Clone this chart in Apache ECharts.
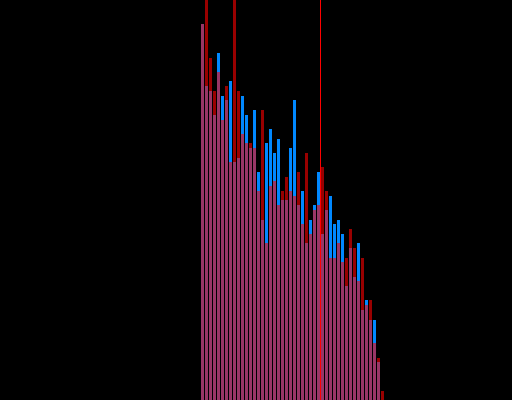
<!DOCTYPE html>
<html>
<head>
<meta charset="utf-8">
<style>
html,body{margin:0;padding:0;background:#000;}
#main{width:512px;height:400px;}
</style>
<script src="https://cdn.jsdelivr.net/npm/echarts@6/dist/echarts.min.js"></script>
</head>
<body>
<div id="main"></div>
<script>
// bin indices (categories)
const categories = [0,1,2,3,4,5,6,7,8,9,10,11,12,13,14,15,16,17,18,19,20,21,22,23,24,25,26,27,28,29,30,31,32,33,34,35,36,37,38,39,40,41,42,43,44,45];
// blue series values
const blueValues = [376,314,309,285,347,304,300,319,238,242,304,285,252,290,228,180,257,271,247,261,200,200,252,300,195,209,157,180,195,228,166,190,204,176,180,166,114,152,123,157,90,100,80,80,38,0];
// red series values (semi-transparent, drawn on top)
const redValues = [376,430,342,309,328,280,314,238,420,309,266,257,257,252,209,290,157,214,219,195,209,223,209,204,228,176,247,166,190,195,233,209,142,142,157,138,142,171,152,119,142,95,100,57,42,9];
// position of the vertical marker (between bins 29 and 30)
const markerX = 29.5;

const chart = echarts.init(document.getElementById('main'), null, {renderer: 'canvas'});
chart.setOption({
  backgroundColor: '#000',
  animation: false,
  grid: {left: 200.5, top: 0, width: 184, height: 400, containLabel: false},
  xAxis: {type: 'value', min: -0.5, max: 45.5, show: false},
  yAxis: {type: 'value', min: 0, max: 400, show: false},
  series: [
    {
      type: 'bar', name: 'blue', barWidth: 3, barGap: '-100%',
      data: categories.map((c, i) => [c, blueValues[i]]),
      itemStyle: {color: '#0088ff'},
      clip: true
    },
    {
      type: 'bar', name: 'red', barWidth: 3, barGap: '-100%',
      data: categories.map((c, i) => [c, redValues[i]]),
      itemStyle: {color: 'rgba(255,0,0,0.6)'},
      clip: true,
      markLine: {
        silent: true, symbol: 'none', animation: false,
        label: {show: false},
        lineStyle: {color: '#ff0000', width: 1, type: 'solid', opacity: 1},
        data: [{xAxis: markerX}]
      }
    }
  ]
});
</script>
</body>
</html>
